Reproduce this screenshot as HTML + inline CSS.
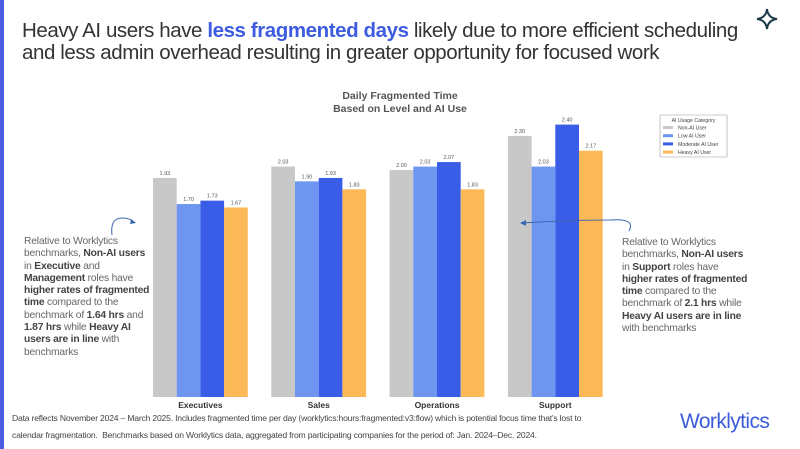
<!DOCTYPE html>
<html><head><meta charset="utf-8"><style>
body{margin:0;width:800px;height:449px;background:#fff;overflow:hidden;position:relative;font-family:"Liberation Sans",sans-serif}
.strip{position:absolute;left:0;top:0;width:4px;height:449px;background:#4a5fe0}
.title{position:absolute;left:22px;top:20px;font-size:20.5px;line-height:22px;color:#333;letter-spacing:-0.42px;white-space:nowrap}
.title b{color:#3d5ce0}
.note{position:absolute;font-size:10.3px;line-height:12.3px;color:#666;letter-spacing:-0.2px;white-space:nowrap}
.note b{color:#444}
.foot{position:absolute;left:12px;top:410px;font-size:8.6px;line-height:17px;color:#444;letter-spacing:-0.2px;white-space:nowrap}
.logo{position:absolute;left:680px;top:410px;font-size:21px;color:#3b5bdb;letter-spacing:-0.6px}
</style></head><body>
<div class="strip"></div>
<div class="title">Heavy AI users have <b>less fragmented days</b> likely due to more efficient scheduling<br>and less admin overhead resulting in greater opportunity for focused work</div>
<svg style="position:absolute;left:755px;top:7px" width="24" height="24"><path d="M12 2 Q13 11 22 12 Q13 13 12 22 Q11 13 2 12 Q11 11 12 2Z" fill="none" stroke="#1d3a4a" stroke-width="2"/></svg>
<svg id="chart" width="800" height="449" style="position:absolute;left:0;top:0"></svg>
<div class="note" style="left:24px;top:236px">Relative to Worklytics<br>benchmarks, <b>Non-AI users</b><br>in <b>Executive</b> and<br><b>Management</b> roles have<br><b>higher rates of fragmented</b><br><b>time</b> compared to the<br>benchmark of <b>1.64 hrs</b> and<br><b>1.87 hrs</b> while <b>Heavy AI</b><br><b>users are in line</b> with<br>benchmarks</div>
<div class="note" style="left:622px;top:237px">Relative to Worklytics<br>benchmarks, <b>Non-AI users</b><br>in <b>Support</b> roles have<br><b>higher rates of fragmented</b><br><b>time</b> compared to the<br>benchmark of <b>2.1 hrs</b> while<br><b>Heavy AI users are in line</b><br>with benchmarks</div>
<div class="foot">Data reflects November 2024 – March 2025. Includes fragmented time per day (worklytics:hours:fragmented:v3:flow) which is potential focus time that's lost to<br>calendar fragmentation.&nbsp; Benchmarks based on Worklytics data, aggregated from participating companies for the period of: Jan. 2024–Dec. 2024.</div>
<div class="logo">Worklytics</div>
<script>
const categories=["Executives","Sales","Operations","Support"];
const seriesNames=["Non-AI User","Low AI User","Moderate AI User","Heavy AI User"];
const nonAI=[1.93,2.03,2.00,2.30];
const lowAI=[1.70,1.90,2.03,2.03];
const modAI=[1.73,1.93,2.07,2.40];
const heavyAI=[1.67,1.83,1.83,2.17];
const colors=["#c8c8c8","#6e96f0","#3a5de8","#fbb957"];
const series=[nonAI,lowAI,modAI,heavyAI];
const svg=document.getElementById('chart');
const NS="http://www.w3.org/2000/svg";
const base=397,scale=113.5,x0=153,gStep=118.3,bw=23.7;
const y=v=>base-v*scale;
const xb=(g,s)=>x0+g*gStep+s*bw;
function mk(t,a){const e=document.createElementNS(NS,t);for(const k in a)e.setAttribute(k,a[k]);svg.appendChild(e);return e;}
let t=mk('text',{x:400,y:99,'text-anchor':'middle','font-size':'10.5','font-weight':'bold',fill:'#555'});t.textContent='Daily Fragmented Time';


t=mk('text',{x:400,y:112,'text-anchor':'middle','font-size':'10.5','font-weight':'bold',fill:'#555'});t.textContent='Based on Level and AI Use';


categories.forEach((c,g)=>{
  series.forEach((arr,s)=>{
    const v=arr[g];
    const r=mk('rect',{x:xb(g,s),y:y(v),width:bw,height:v*scale,fill:colors[s]});
    
    
    const l=mk('text',{x:xb(g,s)+bw/2,y:y(v)-3,'text-anchor':'middle','font-size':'5.5',fill:'#555'});
    l.textContent=v.toFixed(2);
    
    
  });
  const cl=mk('text',{x:xb(g,2),y:408,'text-anchor':'middle','font-size':'8.5','font-weight':'bold',fill:'#333'});
  cl.textContent=c;
  
  
});
const lg=mk('rect',{x:660,y:115,width:67,height:42,fill:'#fff',stroke:'#999','stroke-width':0.6,rx:1});


t=mk('text',{x:693.5,y:122,'text-anchor':'middle','font-size':'5.2',fill:'#444'});t.textContent='AI Usage Category';


seriesNames.forEach((n,i)=>{
  mk('rect',{x:663,y:126+i*8.2,width:10,height:3,fill:colors[i]});
  const e=mk('text',{x:678,y:129.5+i*8.2,'font-size':'5.2',fill:'#444'});e.textContent=n;
  
  
});
const a1=mk('path',{d:'M112 235 Q110 218 122 218 Q130 218 134 222',fill:'none',stroke:'#3a66b0','stroke-width':1});


mk('path',{d:'M131 219 L136 223 L130 224Z',fill:'#3a66b0'});
const a2=mk('path',{d:'M629 231 Q636 218 610 220 Q570 220 523 223',fill:'none',stroke:'#3a66b0','stroke-width':1});


mk('path',{d:'M520 223 L526 220 L526 226Z',fill:'#3a66b0'});
</script>
</body></html>
